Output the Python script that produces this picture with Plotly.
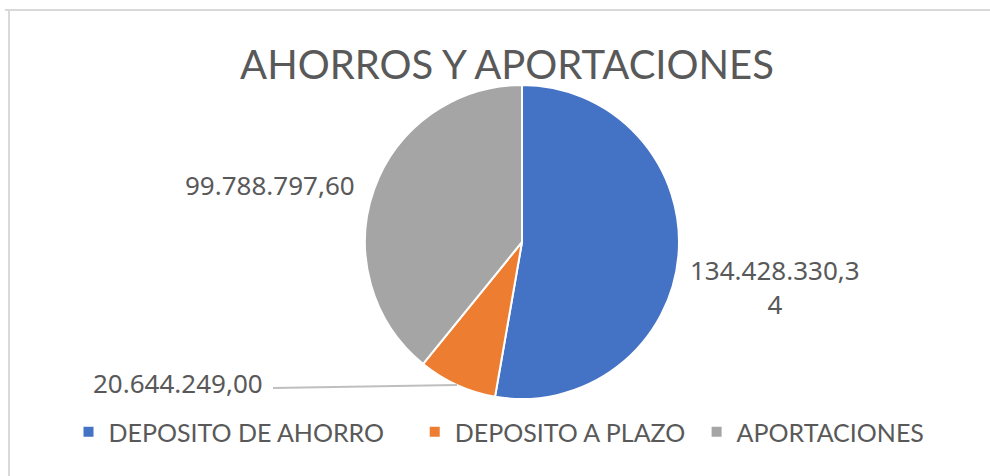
import math
import plotly.graph_objects as go

categories = ["DEPOSITO DE AHORRO", "DEPOSITO A PLAZO", "APORTACIONES"]
values = [134428330.34, 20644249.00, 99788797.60]
label_texts = ["134.428.330,3<br>4", "20.644.249,00", "99.788.797,60"]
colors = ["#4472C4", "#ED7D31", "#A5A5A5"]

W, H = 990, 476
cx, cy, R = 522, 242, 157

# extra legend spacing (Excel-like gaps between entries)
legend_pad = [4, 1, 0]
legend_labels = [c + "\u00a0" * n for c, n in zip(categories, legend_pad)]


def px(x):
    return x / W


def py(y):
    return 1 - y / H


fig = go.Figure(go.Pie(
    labels=legend_labels,
    values=values,
    sort=False,
    direction="clockwise",
    rotation=0,
    textinfo="none",
    hoverinfo="label+value",
    marker=dict(colors=colors, line=dict(color="white", width=2)),
    domain=dict(x=[px(cx - R), px(cx + R)], y=[py(cy + R), py(cy - R)]),
))

# label placement (layout positions, Excel-style manual placement)
label_pos = [(775, 287), (178, 383), (270, 185)]
font_lbl = dict(family="Noto Sans", size=26, color="#595959")
for txt, (x, y) in zip(label_texts, label_pos):
    fig.add_annotation(x=px(x), y=py(y), xref="paper", yref="paper", text=txt,
                       showarrow=False, font=font_lbl, align="center",
                       xanchor="center", yanchor="middle")

# leader line for the small slice, ending at its edge midpoint
total = sum(values)
start = values[0] / total * 360
mid = math.radians(start + values[1] / total * 360 / 2)
ex = cx + R * math.sin(mid)
ey = cy - R * math.cos(mid)
fig.add_shape(type="line", xref="paper", yref="paper",
              x0=px(273), y0=py(388), x1=px(ex), y1=py(ey),
              line=dict(color="#BFBFBF", width=2))

# chart-area border (top and left edges visible)
fig.add_shape(type="line", xref="paper", yref="paper", x0=px(5), y0=py(10), x1=1, y1=py(10),
              line=dict(color="#D9D9D9", width=2))
fig.add_shape(type="line", xref="paper", yref="paper", x0=px(9), y0=py(10), x1=px(9), y1=0,
              line=dict(color="#D9D9D9", width=2))

fig.update_layout(
    width=W, height=H,
    margin=dict(l=0, r=0, t=0, b=0),
    paper_bgcolor="white",
    plot_bgcolor="white",
    title=dict(text="AHORROS Y APORTACIONES", x=px(507), y=py(65),
               xanchor="center", yanchor="middle",
               font=dict(family="Lato", size=40, color="#595959")),
    legend=dict(orientation="h", x=px(499), y=py(432), xanchor="center", yanchor="middle",
                font=dict(family="Lato", size=25, color="#595959"),
                itemsizing="constant"),
    showlegend=True,
)

fig.write_html("out.html", config={"displayModeBar": False},
               post_script="document.body.style.margin='0';")
